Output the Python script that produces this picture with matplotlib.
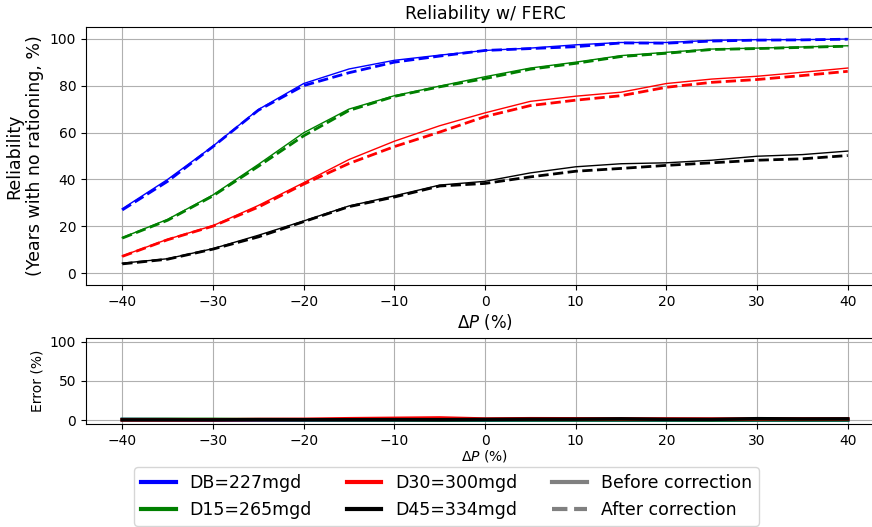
import numpy as np
import matplotlib
matplotlib.use("Agg")
import matplotlib.pyplot as plt
from matplotlib.lines import Line2D

# Precipitation change scenarios (%)
dP = [-40, -35, -30, -25, -20, -15, -10, -5, 0, 5, 10, 15, 20, 25, 30, 35, 40]

# Reliability (years with no rationing, %) before and after correction
db_before = [27.5, 40.0, 54.2, 69.8, 80.9, 87.1, 90.8, 93.0, 95.0, 96.0, 97.4, 98.4, 98.4, 99.3, 99.6, 99.6, 99.9]
db_after = [27.0, 39.2, 54.0, 69.5, 80.0, 85.5, 90.0, 92.6, 95.0, 95.8, 96.6, 98.2, 98.1, 99.0, 99.4, 99.5, 99.8]

d15_before = [15.2, 23.0, 33.4, 46.4, 59.9, 70.0, 75.7, 79.8, 83.8, 87.5, 90.0, 92.8, 94.2, 95.6, 96.0, 96.5, 97.0]
d15_after = [15.0, 22.6, 33.0, 45.6, 58.6, 69.4, 75.4, 79.5, 83.0, 87.0, 89.5, 92.4, 93.8, 95.4, 95.8, 96.3, 96.8]

d30_before = [7.4, 14.5, 20.3, 28.9, 38.6, 48.5, 56.3, 62.9, 68.4, 73.3, 75.5, 77.2, 80.9, 82.8, 84.0, 85.7, 87.5]
d30_after = [7.2, 14.3, 20.1, 28.2, 38.0, 46.8, 54.0, 60.2, 66.8, 71.5, 73.8, 75.7, 79.3, 81.4, 82.6, 84.3, 86.1]

d45_before = [4.3, 6.2, 10.5, 16.2, 22.3, 28.7, 33.0, 37.6, 39.2, 42.8, 45.4, 46.7, 47.1, 48.2, 49.9, 50.6, 52.1]
d45_after = [4.0, 6.0, 10.3, 15.5, 22.0, 28.4, 32.5, 37.2, 38.3, 41.1, 43.5, 44.7, 46.0, 47.1, 48.2, 48.8, 50.2]

# Error between corrected and uncorrected reliability (%)
db_err = [0.8, 0.6, 0.3, 0.2, 0.3, 0.4, 0.3, 0.2, 0.0, 0.1, 0.2, 0.1, 0.1, 0.1, 0.1, 0.1, 0.1]
d15_err = [0.9, 1.0, 1.0, 0.6, 0.5, 0.4, 0.3, 0.2, 0.2, 0.2, 0.2, 0.2, 0.2, 0.1, 0.2, 0.2, 0.2]
d30_err = [0.3, 0.3, 0.4, 0.8, 1.0, 1.8, 2.3, 2.8, 1.4, 1.8, 1.7, 1.5, 1.5, 1.4, 1.4, 1.5, 1.5]
d45_err = [0.3, 0.3, 0.3, 0.6, 0.5, 0.5, 0.6, 0.5, 0.9, 1.2, 1.2, 1.6, 1.0, 0.9, 1.8, 1.5, 1.6]

labels = ["DB=227mgd", "D15=265mgd", "D30=300mgd", "D45=334mgd"]
colors = ["blue", "green", "red", "black"]
before = [db_before, d15_before, d30_before, d45_before]
after = [db_after, d15_after, d30_after, d45_after]
errors = [db_err, d15_err, d30_err, d45_err]

W, H = 872, 527
fig = plt.figure(figsize=(W / 100, H / 100), dpi=100)

# Main panel
ax = fig.add_axes([86 / W, 1 - 285 / H, 798 / W, 258 / H])
for b, a, c in zip(before, after, colors):
    ax.plot(dP, b, color=c, lw=1.0, ls="-")
    ax.plot(dP, a, color=c, lw=2.0, ls="--")
ax.set_xlim(-44, 44)
ax.set_ylim(-5, 105)
ax.set_xticks([-40, -30, -20, -10, 0, 10, 20, 30, 40])
ax.set_yticks([0, 20, 40, 60, 80, 100])
ax.grid(True, color="#b0b0b0", lw=0.8)
ax.set_title("Reliability w/ FERC", fontsize=12.5)
ax.set_xlabel(r"$\Delta P$ (%)", fontsize=12, labelpad=2)
ax.set_ylabel("Reliability\n(Years with no rationing, %)", fontsize=12.5)
ax.tick_params(labelsize=10)

# Error panel
ax2 = fig.add_axes([86 / W, 1 - 424 / H, 798 / W, 86 / H])
for e, c in zip(errors, colors):
    ax2.plot(dP, e, color=c, lw=2.5)
ax2.set_xlim(-44, 44)
ax2.set_ylim(-5, 105)
ax2.set_xticks([-40, -30, -20, -10, 0, 10, 20, 30, 40])
ax2.set_yticks([0, 50, 100])
ax2.grid(True, color="#b0b0b0", lw=0.8)
ax2.set_xlabel(r"$\Delta P$ (%)", fontsize=10, labelpad=0)
ax2.set_ylabel("Error (%)", fontsize=10)
ax2.tick_params(labelsize=10)

handles = [Line2D([], [], color=c, lw=3) for c in colors]
handles += [Line2D([], [], color="grey", lw=3, ls="-"),
            Line2D([], [], color="grey", lw=3, ls="--")]
names = labels + ["Before correction", "After correction"]
fig.legend(handles, names, ncol=3, loc="center", fontsize=12.5,
           bbox_to_anchor=(446.5 / W, 1 - 496.5 / H), handlelength=2,
           columnspacing=2.0)

fig.savefig("out.png", dpi=100)
